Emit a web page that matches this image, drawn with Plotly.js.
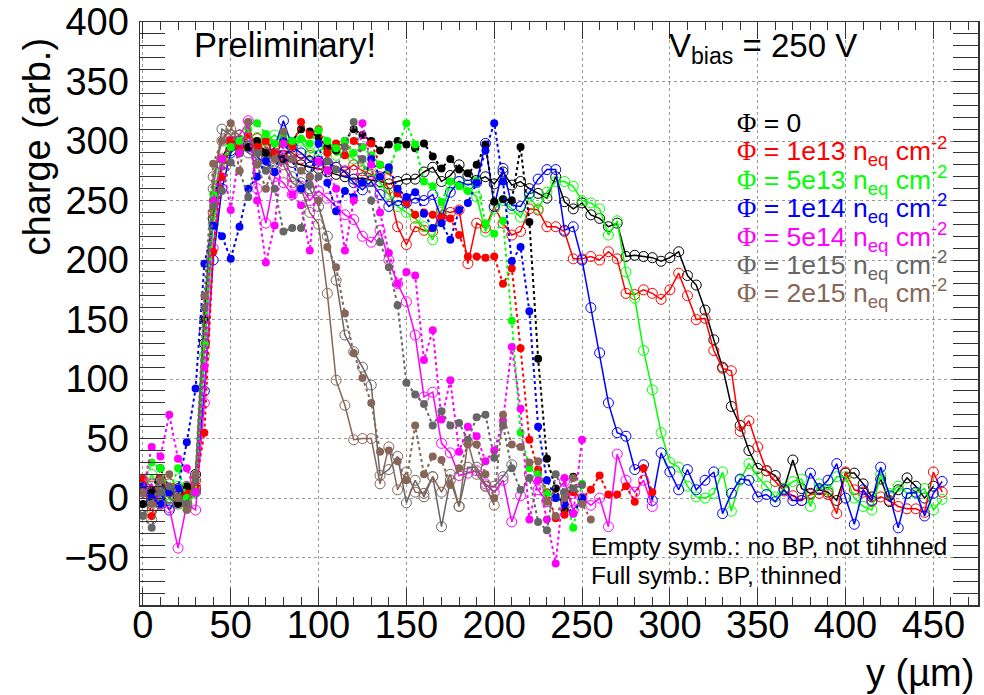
<!DOCTYPE html>
<html><head><meta charset="utf-8">
<script src="https://cdn.plot.ly/plotly-3.0.1.min.js"></script>
<style>html,body{margin:0;padding:0;background:#fff;}#chart{width:984px;height:695px;}</style>
</head><body><div id="chart"></div>
<script>
// y positions (µm) shared by all series
const positions = [0,5,10,15,20,25,30,35,40,45,50,55,60,65,70,75,80,85,90,95,
  100,105,110,115,120,125,130,135,140,145,150,155,160,165,170,175,180,185,190,195,
  200,205,210,215,220,225,230,235,240,245,250,255,260,265,270,275,280,285,290,295,
  300,305,310,315,320,325,330,335,340,345,350,355,360,365,370,375,380,385,390,395,
  400,405,410,415,420,425,430,435,440,445,450,455];

const fluenceLabels = ['0','1e13','5e13','1e14','5e14','1e15','2e15'];
const colors = ['#000000','#ff0000','#00ff00','#0000ff','#ff00ff','#666666','#876657'];

// Empty symbols: no BP, not thinned
const open0 = [-8,5,15,0,8,3,20,130,235,280, 292,300,296,294,290,288,285,282,280,278,
  277,274,272,270,268,269,267,266,264,266, 268,268,274,278,266,271,280,271,267,270,
  264,274,263,266,260,256,252,270,249,243, 248,238,235,228,231,203,204,203,202,199,
  202,207,187,179,158,133,110,77,61,40, 25,23,19,8,32,8,4,7,5,-2,
  21,21,12,1,16,-3,7,17,10,0, 10];
const open1e13 = [15,10,-5,12,5,0,15,140,240,285, 300,305,300,302,295,290,292,290,285,288,
  280,282,278,275,280,275,272,270,260,228, 213,228,225,224,242,240,242,197,231,227,
  245,231,221,224,243,242,228,228,224,201, 201,203,200,207,201,172,171,175,172,167,
  175,189,170,150,151,124,109,107,56,65, 43,23,14,6,2,-2,3,4,3,-13,
  22,7,5,-3,1,-2,-7,-9,-9,-12,22,5];
const open5e13 = [0,20,5,-5,10,-8,5,120,230,275, 295,305,300,303,300,305,298,295,300,290,
  292,295,288,290,285,280,275,265,255,245, 240,235,228,217,240,264,266,260,253,224,
  243,250,243,236,253,243,257,266,266,262, 250,248,243,221,233,190,168,124,91,55,
  30,26,10,1,0,4,22,-11,15,29, 18,10,1,8,14,16,-7,12,7,18,
  18,0,-7,-10,20,4,10,4,4,8,-10,-1];
const open1e14 = [8,-3,5,-10,2,5,8,90,200,260, 290,300,295,287,280,295,317,295,290,283,
  283,281,278,274,265,259,266,255,245,250, 248,252,250,255,235,257,266,263,265,298,
  245,277,246,245,256,268,276,276,225,228, 200,160,122,80,55,52,24,28,-2,38,
  22,7,24,7,15,22,-13,4,16,15, 1,3,-3,7,-2,-2,21,8,15,29,
  0,-22,7,-2,26,2,-25,4,5,-15,4,14];
const open5e14 = [5,12,-5,-8,-42,-5,-10,80,210,280, 300,305,317,260,231,270,265,255,262,250,
  258,252,245,238,234,220,215,225,200,180, 165,137,85,89,46,38,19,21,23,12,
  5,15,-20,2,20,7,-3,5,14,-10, 0,-6,0,-24,37,15,5,15,-7];
const open1e15 = [5,-5,10,0,-5,10,5,140,260,310, 305,295,290,285,280,275,285,270,265,260,
  245,220,183,137,123,110,95,19,24,35, -4,15,1,18,-24,15,-7,26,26,10,
  10,18,28];
const open2e15 = [-10,-18,-5,5,0,-5,10,150,270,300, 310,305,300,295,290,285,280,265,260,240,
  230,172,99,78,49,50,50,12,43,7, 22,5,4,18,5,20,-7,47,20,10, -6];

// Full symbols: BP, thinned
const full0 = [-5,5,25,8,-5,10,5,150,250,285, 300,290,295,300,290,288,285,300,310,308,
  303,295,292,300,310,305,300,292,297,300, 297,294,298,287,277,285,276,273,280,297,
  249,251,250,295,232,117,33,8,-10,18];
const full1e13 = [16,-15,17,5,0,4,10,55,207,270, 300,295,305,295,300,290,300,295,316,305,
  310,290,298,288,300,295,298,280,275,256, 248,238,240,238,236,235,221,203,203,202,
  203,180,193,126,49,24,5,-17,-14,5, 0,7,19,3,3,10,-3,25,5];
const full5e13 = [10,30,25,5,25,0,5,130,255,285, 295,300,310,315,306,298,305,300,302,298,
  309,300,294,300,290,295,288,280,276,295, 315,297,266,262,249,266,262,258,267,231,
  222,233,149,55,25,20,4,0,5,-25, 12];
const full1e14 = [10,0,-5,5,8,47,92,197,229,220, 201,228,260,270,283,274,300,285,260,270,
  298,265,241,258,253,265,285,270,278,260, 253,257,239,227,231,217,242,248,265,292,
  315,266,199,211,157,60,15,0,-5,-13, 0];
const full5e14 = [5,43,35,70,33,25,5,110,250,285, 242,290,316,250,198,229,298,255,246,208,
  283,275,260,208,250,315,280,240,206,180, 190,187,116,141,66,99,39,60,52,31,
  40,65,127,75,-18,15,-18,-55,17,-13, 49];
const full1e15 = [-15,-25,5,10,0,-5,15,160,245,258, 282,275,253,290,275,260,224,227,227,263,
  270,283,276,295,316,285,250,215,194,162, 97,87,79,61,73,61,63,49,68,70,
  34,61,25,7,17,-20,-27,20,5,8, 11];
const full2e15 = [5,-5,15,20,0,-10,20,170,281,300, 315,275,316,280,260,285,308,285,275,270,
  250,211,194,155,122,101,80,39,40,31, 15,61,20,35,32,11,25,45,45,20,
  0,70,45,43,30,31,-3,-15,0,17, -5,-18];

const openSeries = [open0, open1e13, open5e13, open1e14, open5e14, open1e15, open2e15];
const fullSeries = [full0, full1e13, full5e13, full1e14, full5e14, full1e15, full2e15];

const FONT = 'Liberation Sans, Arial, Helvetica, sans-serif';
const traces = [];
// empty-symbol series on the framed axis (x), full-symbol series on the overlaid label axis (x2)
for (let i = 0; i < colors.length; i++) {
  const o = openSeries[i];
  traces.push({x: positions.slice(0, o.length), y: o, type: 'scatter', mode: 'lines+markers',
    xaxis: 'x', yaxis: 'y',
    line: {color: colors[i], width: 1.5},
    marker: {symbol: 'circle-open', size: 10, color: colors[i], line: {width: 1, color: colors[i]}},
    showlegend: false, hoverinfo: 'skip'});
}
for (let i = 0; i < colors.length; i++) {
  const f = fullSeries[i];
  traces.push({x: positions.slice(0, f.length), y: f, type: 'scatter', mode: 'lines+markers',
    xaxis: 'x2', yaxis: 'y',
    line: {color: colors[i], width: 2, dash: 'dot'},
    marker: {symbol: 'circle', size: 8, color: colors[i]},
    showlegend: false, hoverinfo: 'skip'});
}

const W = 984, H = 695, L = 140, R = 978, T = 22, B = 605;
const X_RANGE = [-1.65, 475.4];
const px = v => (v - L) / (R - L);
const py = v => (B - v) / (B - T);
const PHI = '<span style="font-family:Liberation Serif, Times New Roman, serif">Φ</span>';

const annotations = [
  {text: 'Preliminary!', x: px(192), y: py(45), xanchor: 'left', yanchor: 'middle', font: {size: 34.5, color: '#000'}},
  {text: 'V<sub>bias</sub> = 250 V', x: px(667), y: py(48), xanchor: 'left', yanchor: 'middle', font: {size: 33, color: '#000'}},
  {text: 'Empty symb.: no BP, not tihhned', x: px(589), y: py(546), xanchor: 'left', yanchor: 'middle', font: {size: 24.7, color: '#000'}},
  {text: 'Full symb.: BP, thinned', x: px(589), y: py(575), xanchor: 'left', yanchor: 'middle', font: {size: 24.7, color: '#000'}},
  {text: 'charge (arb.)', x: px(36), y: py(146.5), xanchor: 'center', yanchor: 'middle', textangle: -90, font: {size: 38, color: '#000'}},
  {text: 'y (µm)', x: px(976), y: py(673), xanchor: 'right', yanchor: 'middle', font: {size: 38, color: '#000'}}
];
for (let i = 0; i < fluenceLabels.length; i++) {
  const t = i === 0 ? PHI + ' = ' + fluenceLabels[i]
                    : PHI + ' = ' + fluenceLabels[i] + ' n<sub>eq</sub> cm<sup>-2</sup>';
  annotations.push({text: t, x: px(735), y: py(123 + 28.4 * i), xanchor: 'left', yanchor: 'middle',
    font: {size: 26.5, color: colors[i]}});
}
annotations.forEach(a => { a.xref = 'paper'; a.yref = 'paper'; a.showarrow = false; a.font.family = FONT; });

const axisCommon = {
  showline: true, linecolor: '#333', linewidth: 1.5, mirror: 'allticks',
  ticks: 'inside', tickcolor: '#333', tickwidth: 1,
  showgrid: true, gridcolor: '#999', griddash: 'dot', gridwidth: 1,
  zeroline: false, tick0: 0, dtick: 50,
  tickfont: {family: FONT, size: 38, color: '#000'}
};
const layout = {
  width: W, height: H,
  margin: {l: L, r: W - R, t: T, b: H - B, pad: 0},
  paper_bgcolor: '#fff', plot_bgcolor: '#fff',
  font: {family: FONT},
  xaxis: Object.assign({}, axisCommon, {range: X_RANGE, autorange: false, ticklen: 17, showticklabels: false,
    minor: {dtick: 10, tick0: 0, ticklen: 8, ticks: 'inside', tickcolor: '#333', tickwidth: 1, showgrid: false}}),
  // label-carrying copy of the x axis, lifted a few pixels to match the reference label placement
  xaxis2: {overlaying: 'x', range: X_RANGE, autorange: false, anchor: 'free', position: 6 / (B - T), side: 'bottom',
    showline: false, ticks: '', showgrid: false, zeroline: false, tick0: 0, dtick: 50,
    ticklabelstandoff: 0, tickfont: {family: FONT, size: 38, color: '#000'}},
  yaxis: Object.assign({}, axisCommon, {range: [-89.8, 400], autorange: false, ticklen: 25, ticklabelstandoff: 2,
    minor: {dtick: 10, tick0: 0, ticklen: 12.5, ticks: 'inside', tickcolor: '#333', tickwidth: 1, showgrid: false}}),
  annotations: annotations,
  showlegend: false
};
Plotly.newPlot('chart', traces, layout, {displayModeBar: false, staticPlot: true});
</script></body></html>
